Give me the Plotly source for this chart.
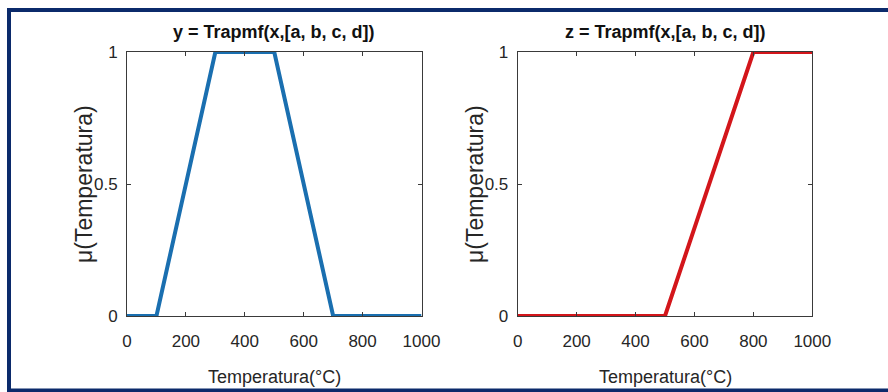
import plotly.graph_objects as go

W, H = 888, 392

# Data
x_left = [0, 100, 300, 500, 700, 1000]
y_left = [0, 0, 1, 1, 0, 0]
x_right = [0, 500, 800, 1000]
y_right = [0, 0, 1, 1]
x_ticks = [0, 200, 400, 600, 800, 1000]
y_ticks = [0, 0.5, 1]
y_ticklabels = ["0", "0.5", "1"]
titles = ["y = Trapmf(x,[a, b, c, d])", "z = Trapmf(x,[a, b, c, d])"]
x_title = "Temperatura(°C)"
y_title = "μ(Temperatura)"

BLUE = "#1a6fb0"
RED = "#d3161b"
NAVY = "#0b2a6b"
AX = "#3a3a3a"
FONT = "Liberation Sans, Arial, sans-serif"

def px(x):
    return x / W

def py(y):
    return 1 - y / H

fig = go.Figure()
fig.add_trace(go.Scatter(x=x_left, y=y_left, mode="lines", xaxis="x", yaxis="y",
                         line=dict(color=BLUE, width=4), cliponaxis=False, showlegend=False))
fig.add_trace(go.Scatter(x=x_right, y=y_right, mode="lines", xaxis="x2", yaxis="y2",
                         line=dict(color=RED, width=4), cliponaxis=False, showlegend=False))

xdoms = [[px(127), px(421.5)], [px(517.7), px(812.3)]]
ydom = [py(316), py(52)]

tickfont = dict(family=FONT, size=17, color="#262626")
common_x = dict(range=[0, 1000], tickvals=x_ticks, ticks="inside", ticklen=4, tickcolor=AX,
                showline=True, linecolor=AX, linewidth=1, mirror="ticks", showgrid=False,
                zeroline=False, tickfont=tickfont, ticklabelstandoff=10, fixedrange=True,
                automargin=False)
common_y = dict(range=[0, 1], tickvals=y_ticks, ticktext=y_ticklabels, ticks="inside", ticklen=4,
                tickcolor=AX, showline=True, linecolor=AX, linewidth=1, mirror="ticks",
                showgrid=False, zeroline=False, tickfont=tickfont, ticklabelstandoff=5,
                fixedrange=True, automargin=False)

fig.update_layout(
    width=W, height=H,
    margin=dict(l=0, r=0, t=0, b=0, autoexpand=False),
    paper_bgcolor="white", plot_bgcolor="white",
    xaxis=dict(domain=xdoms[0], anchor="y", **common_x),
    yaxis=dict(domain=ydom, anchor="x", **common_y),
    xaxis2=dict(domain=xdoms[1], anchor="y2", **common_x),
    yaxis2=dict(domain=ydom, anchor="x2", **common_y),
)

annots = []
centers = [274, 665]
ylab_x = [84, 475]
for i in range(2):
    annots.append(dict(text="<b>" + titles[i] + "</b>", x=px(centers[i]), y=py(44),
                       xref="paper", yref="paper", xanchor="center", yanchor="bottom",
                       showarrow=False, font=dict(family=FONT, size=18, color="#111111")))
    annots.append(dict(text=x_title, x=px(centers[i]), y=py(389),
                       xref="paper", yref="paper", xanchor="center", yanchor="bottom",
                       showarrow=False, font=dict(family=FONT, size=18, color="#262626")))
    annots.append(dict(text=y_title, x=px(ylab_x[i]), y=py(184), textangle=-90,
                       xref="paper", yref="paper", xanchor="center", yanchor="middle",
                       showarrow=False, font=dict(family=FONT, size=23, color="#262626")))
fig.update_layout(annotations=annots)

# frame border (navy)
fig.add_shape(type="rect", xref="paper", yref="paper",
              x0=px(9), x1=px(W + 10), y0=py(390.5), y1=py(10),
              line=dict(color=NAVY, width=4), fillcolor="rgba(0,0,0,0)", layer="above")

fig.write_html("out.html", config=dict(displayModeBar=False),
               post_script="document.body.style.margin='0';document.body.style.overflow='hidden';")
